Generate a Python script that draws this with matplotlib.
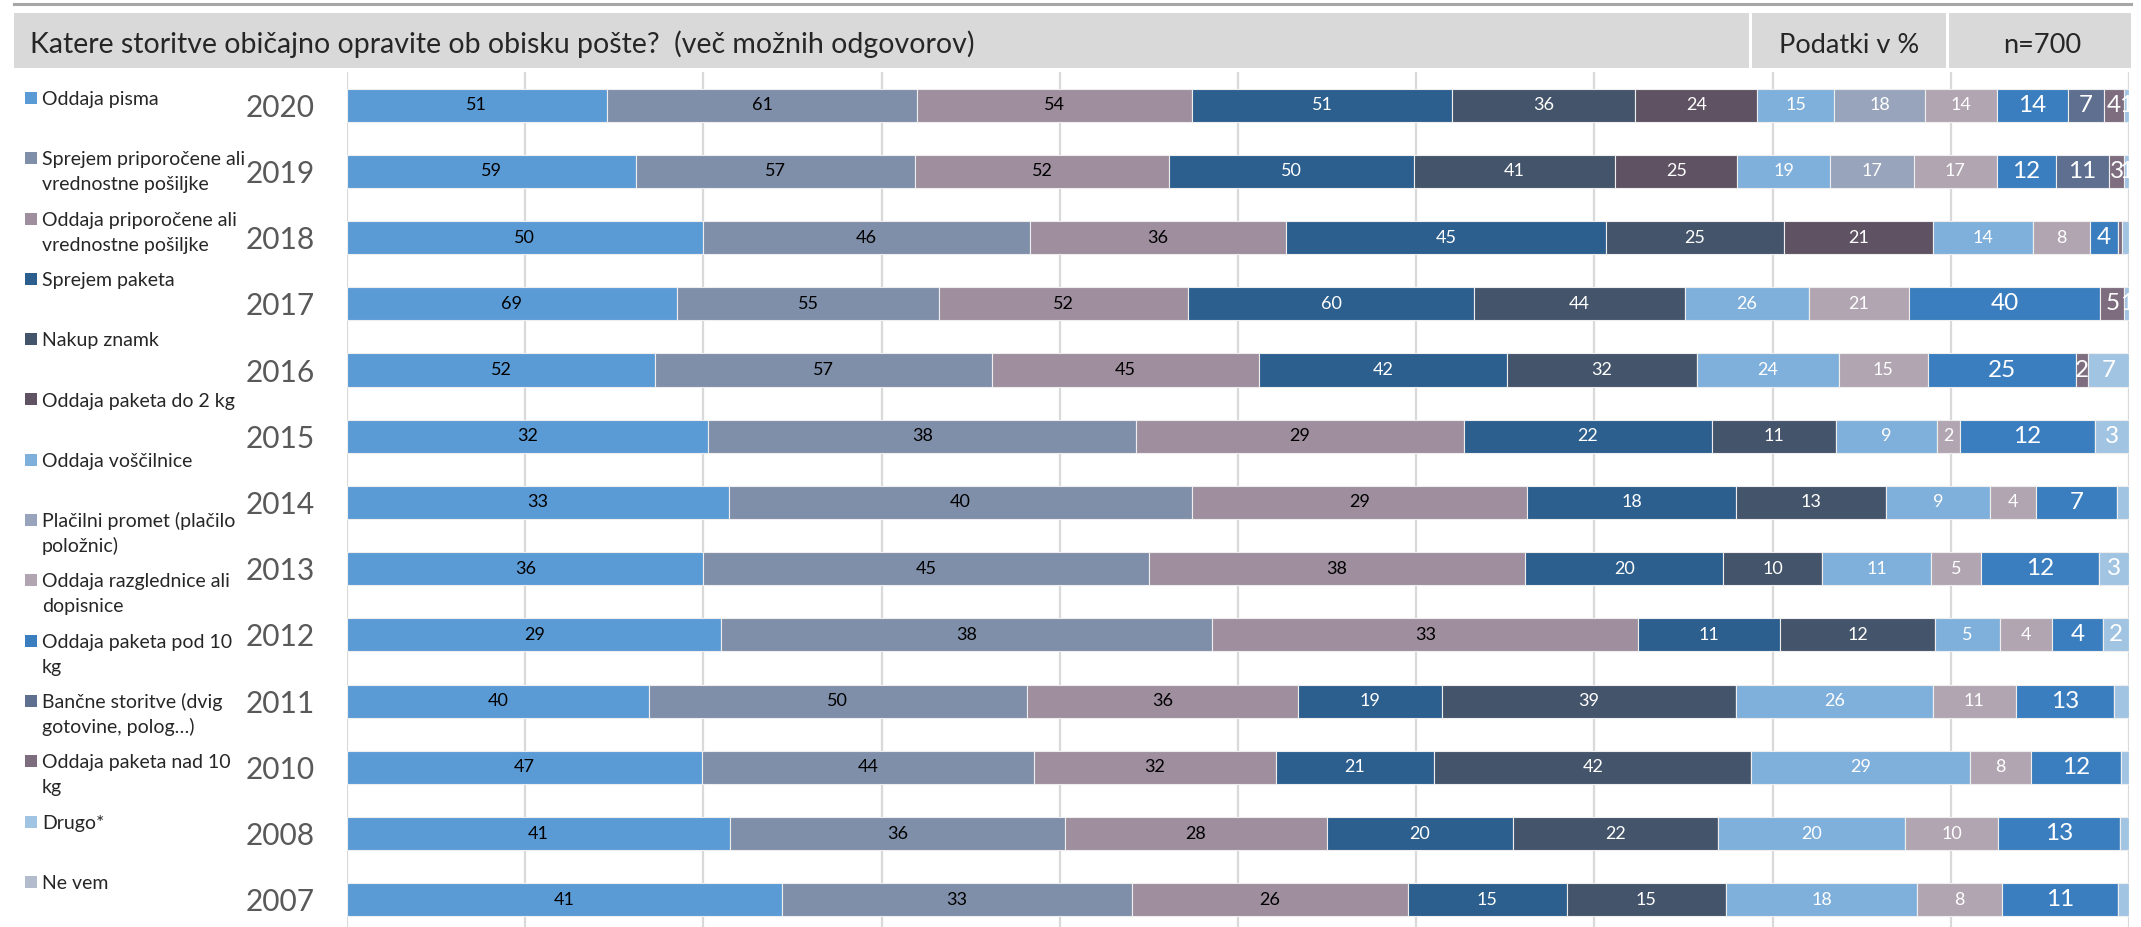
import matplotlib
matplotlib.use("Agg")
import matplotlib.pyplot as plt
from matplotlib.patches import Rectangle
from matplotlib.lines import Line2D
import numpy as np

plt.rcParams['font.family'] = ['Lato', 'DejaVu Sans']

# data (values as printed in the bars, each year is stacked to 100 %)
years = [2020, 2019, 2018, 2017, 2016, 2015, 2014, 2013, 2012, 2011, 2010, 2008, 2007]

oddaja_pisma        = [51, 59, 50, 69, 52, 32, 33, 36, 29, 40, 47, 41, 41]
sprejem_priporocene = [61, 57, 46, 55, 57, 38, 40, 45, 38, 50, 44, 36, 33]
oddaja_priporocene  = [54, 52, 36, 52, 45, 29, 29, 38, 33, 36, 32, 28, 26]
sprejem_paketa      = [51, 50, 45, 60, 42, 22, 18, 20, 11, 19, 21, 20, 15]
nakup_znamk         = [36, 41, 25, 44, 32, 11, 13, 10, 12, 39, 42, 22, 15]
paket_do_2kg        = [24, 25, 21, 0, 0, 0, 0, 0, 0, 0, 0, 0, 0]
voscilnice          = [15, 19, 14, 26, 24, 9, 9, 11, 5, 26, 29, 20, 18]
placilni_promet     = [18, 17, 0, 0, 0, 0, 0, 0, 0, 0, 0, 0, 0]
razglednice         = [14, 17, 8, 21, 15, 2, 4, 5, 4, 11, 8, 10, 8]
paket_pod_10kg      = [14, 12, 4, 40, 25, 12, 7, 12, 4, 13, 12, 13, 11]
bancne_storitve     = [7, 11, 0, 0, 0, 0, 0, 0, 0, 0, 0, 0, 0]
paket_nad_10kg      = [4, 3, 0.5, 5, 2, 0, 0, 0, 0, 0, 0, 0, 0]
drugo               = [1, 1, 1, 1, 7, 3, 1, 3, 2, 2, 1, 1, 1]
ne_vem              = [0, 0, 0, 0, 0, 0, 0, 0, 0, 0, 0, 0, 0]

legend_labels = [
    "Oddaja pisma",
    "Sprejem priporočene ali\nvrednostne pošiljke",
    "Oddaja priporočene ali\nvrednostne pošiljke",
    "Sprejem paketa",
    "Nakup znamk",
    "Oddaja paketa do 2 kg",
    "Oddaja voščilnice",
    "Plačilni promet (plačilo\npoložnic)",
    "Oddaja razglednice ali\ndopisnice",
    "Oddaja paketa pod 10\nkg",
    "Bančne storitve (dvig\ngotovine, polog…)",
    "Oddaja paketa nad 10\nkg",
    "Drugo*",
    "Ne vem",
]

colors = ['#5b9bd5', '#7f8fa9', '#9e8e9e', '#2c5f8e', '#44546a', '#5f5363', '#7fb0db',
          '#97a4bb', '#b1a5b1', '#3a7ebf', '#5e6f8f', '#7e6d7f', '#a2c4e3', '#b2bccc']

# (year, series index) segments drawn without a value label
unlabeled = {(2018, 11), (2018, 12), (2014, 12), (2011, 12), (2010, 12), (2008, 12), (2007, 12)}

title = "Katere storitve običajno opravite ob obisku pošte?  (več možnih odgovorov)"
unit_text = "Podatki v %"
n_text = "n=700"

values = np.array([oddaja_pisma, sprejem_priporocene, oddaja_priporocene, sprejem_paketa,
                   nakup_znamk, paket_do_2kg, voscilnice, placilni_promet, razglednice,
                   paket_pod_10kg, bancne_storitve, paket_nad_10kg, drugo, ne_vem], dtype=float)
shares = values / values.sum(axis=0) * 100

W, H = 2141, 927
fig = plt.figure(figsize=(W / 100, H / 100), dpi=100)


def fx(px):
    return px / W


def fy(py):
    return 1 - py / H


ax = fig.add_axes([fx(347), 0, fx(2129) - fx(347), fy(72)])

y = np.arange(len(years))
left = np.zeros(len(years))
for i in range(len(values)):
    ax.barh(y, shares[i], left=left, height=0.5, color=colors[i],
            edgecolor='#eeeeee', linewidth=0.8, zorder=2)
    for j, yr in enumerate(years):
        v = values[i, j]
        if v < 1 or (yr, i) in unlabeled:
            continue
        big = i >= 9
        ax.text(left[j] + shares[i, j] / 2, j, f"{v:g}",
                ha='center', va='center',
                fontsize=17.5 if big else 13,
                color='black' if i < 3 else 'white', zorder=3)
    left += shares[i]

ax.set_xlim(0, 100)
ax.set_ylim(12.41, -0.5)
ax.set_xticks(range(0, 101, 10))
ax.set_xticklabels([])
ax.grid(axis='x', color='#d9d9d9', linewidth=1.6, zorder=0)
ax.set_axisbelow(True)
ax.set_yticks(y)
ax.set_yticklabels([str(v) for v in years], fontsize=21.5, color='#595959')
ax.tick_params(length=0, axis='y', pad=23)
ax.tick_params(length=0, axis='x')
for s in ax.spines.values():
    s.set_visible(False)

# header
fig.add_artist(Line2D([fx(14), fx(2131)], [fy(4), fy(4)], lw=2.2, color='#a6a6a6'))
for x0, x1 in [(14, 1749), (1752, 1946), (1949, 2131)]:
    fig.add_artist(Rectangle((fx(x0), fy(68)), fx(x1) - fx(x0), fy(13) - fy(68),
                             transform=fig.transFigure, color='#d9d9d9', lw=0))
fig.text(fx(30), fy(53), title, fontsize=20.5, color='#262626', va='baseline')
fig.text(fx(1849), fy(53), unit_text, fontsize=19.5, color='#262626', va='baseline', ha='center')
fig.text(fx(2042), fy(53), n_text, fontsize=19.5, color='#262626', va='baseline', ha='center')

# legend
for i, label in enumerate(legend_labels):
    yc = 98 + i * 60.3
    fig.add_artist(Rectangle((fx(25), fy(yc + 6)), fx(12), 12 / H,
                             transform=fig.transFigure, color=colors[i], lw=0))
    for k, line in enumerate(label.split("\n")):
        fig.text(fx(42), fy(yc + 7 + 25 * k), line, fontsize=14,
                 color='#262626', va='baseline')

fig.savefig("out.png", dpi=100)
